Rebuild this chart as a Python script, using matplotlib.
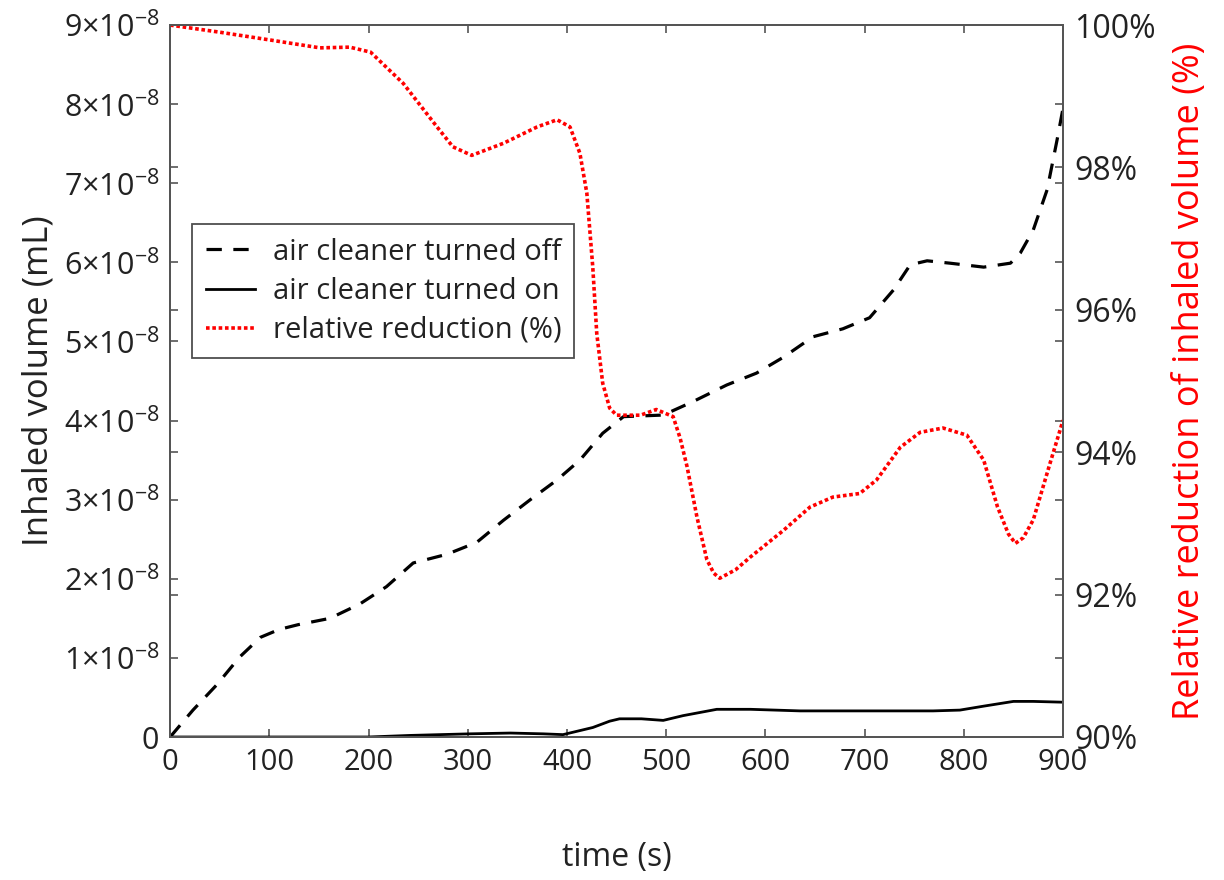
import matplotlib
matplotlib.use("Agg")
from matplotlib import pyplot as plt
from matplotlib.ticker import FuncFormatter, MultipleLocator

plt.rcParams["font.family"] = ["Open Sans", "DejaVu Sans"]
plt.rcParams["mathtext.fontset"] = "custom"
plt.rcParams["mathtext.rm"] = "Open Sans"
plt.rcParams["mathtext.it"] = "Open Sans"
plt.rcParams["mathtext.bf"] = "Open Sans"

# inhaled volume, air cleaner off (mL)
t_off = [0, 23, 47, 70, 91, 110, 129, 161, 191, 218, 245, 279, 309, 336, 363, 390,
         413, 436, 457, 497, 527, 561, 591, 618, 648, 678, 705, 729, 746, 763, 786,
         820, 847, 857, 870, 884, 894, 900]
v_off = [0, 0.34, 0.66, 1.01, 1.26, 1.36, 1.42, 1.50, 1.68, 1.90, 2.20, 2.31, 2.46,
         2.74, 3.00, 3.25, 3.50, 3.84, 4.05, 4.07, 4.24, 4.45, 4.60, 4.80, 5.06, 5.16,
         5.30, 5.65, 5.97, 6.02, 5.99, 5.94, 5.99, 6.12, 6.41, 6.92, 7.55, 7.95]

# inhaled volume, air cleaner on (mL)
t_on = [0, 100, 200, 242, 302, 343, 376, 396, 426, 443, 453, 475, 497, 517, 551,
        585, 635, 769, 796, 820, 850, 870, 900]
v_on = [0, 0, 0, 0.02, 0.04, 0.05, 0.04, 0.03, 0.12, 0.20, 0.23, 0.23, 0.21, 0.27,
        0.35, 0.35, 0.33, 0.33, 0.34, 0.39, 0.45, 0.45, 0.44]

# relative reduction (%)
t_red = [0, 50, 101, 151, 181, 202, 235, 269, 285, 304, 336, 370, 390, 403, 413,
         420, 426, 430, 436, 443, 450, 474, 490, 507, 514, 521, 531, 541, 548, 554,
         570, 585, 618, 645, 668, 695, 712, 736, 756, 779, 803, 820, 834, 845, 852,
         860, 870, 887, 900]
red = [100.0, 99.9, 99.79, 99.68, 99.69, 99.62, 99.18, 98.57, 98.29, 98.17, 98.34,
       98.57, 98.67, 98.57, 98.2, 97.64, 96.6, 95.67, 94.97, 94.62, 94.52, 94.52,
       94.6, 94.5, 94.2, 93.8, 93.09, 92.49, 92.3, 92.23, 92.35, 92.53, 92.9, 93.23,
       93.37, 93.42, 93.61, 94.07, 94.28, 94.34, 94.24, 93.89, 93.23, 92.85, 92.72,
       92.8, 93.05, 93.85, 94.45]

fig = plt.figure(figsize=(12.24, 8.8), dpi=100)
ax = fig.add_axes([0.139, 0.1625, 0.7295, 0.809])
ax2 = ax.twinx()

ln_off, = ax.plot(t_off, [v * 1e-8 for v in v_off], color="black", lw=2.3,
                  dashes=(4.8, 3.6), label="air cleaner turned off")
ln_on, = ax.plot(t_on, [v * 1e-8 for v in v_on], color="black", lw=2.0,
                 label="air cleaner turned on")
ln_red, = ax2.plot(t_red, red, color="#ff0000", lw=2.6, dashes=(1.0, 0.75),
                   label="relative reduction (%)")

ax.set_xlim(0, 900)
ax.set_ylim(0, 9e-8)
ax2.set_ylim(90, 100)
ax.xaxis.set_major_locator(MultipleLocator(100))
ax.yaxis.set_major_locator(MultipleLocator(1e-8))
ax2.yaxis.set_major_locator(MultipleLocator(2))


def sci_fmt(v, pos):
    n = int(round(v / 1e-8))
    if n == 0:
        return "0"
    return r"$%d{\times}10^{-8}$" % n


ax.yaxis.set_major_formatter(FuncFormatter(sci_fmt))
ax2.yaxis.set_major_formatter(FuncFormatter(lambda v, p: "%d%%" % round(v)))

gray = "#555555"
for a in (ax, ax2):
    for s in a.spines.values():
        s.set_color(gray)
        s.set_linewidth(1.4)
ax.tick_params(direction="in", length=6, width=1.2, color=gray, labelsize=22,
               top=True, right=True, labelright=False, pad=8, labelcolor="#222222")
ax.tick_params(axis="x", labelsize=21)
ax2.tick_params(direction="in", length=6, width=1.2, color=gray, labelsize=23,
                left=True, labelleft=False, pad=8, labelcolor="#222222")

ax.set_xlabel("time (s)", fontsize=23, labelpad=46, color="#222222")
ax.set_ylabel("Inhaled volume (mL)", fontsize=25, labelpad=6, color="#222222")
ax2.set_ylabel("Relative reduction of inhaled volume (%)", fontsize=26,
               color="#ff0000", labelpad=12)

leg = ax.legend(handles=[ln_off, ln_on, ln_red], loc="upper left",
                bbox_to_anchor=(0.025, 0.72), fontsize=21, frameon=True,
                fancybox=False, handlelength=1.7, borderaxespad=0.0,
                handletextpad=0.6, labelspacing=0.35, borderpad=0.45)
leg.get_frame().set_edgecolor("#222222")
leg.get_frame().set_linewidth(1.3)
for txt in leg.get_texts():
    txt.set_color("#222222")

fig.savefig("out.png", dpi=100)
